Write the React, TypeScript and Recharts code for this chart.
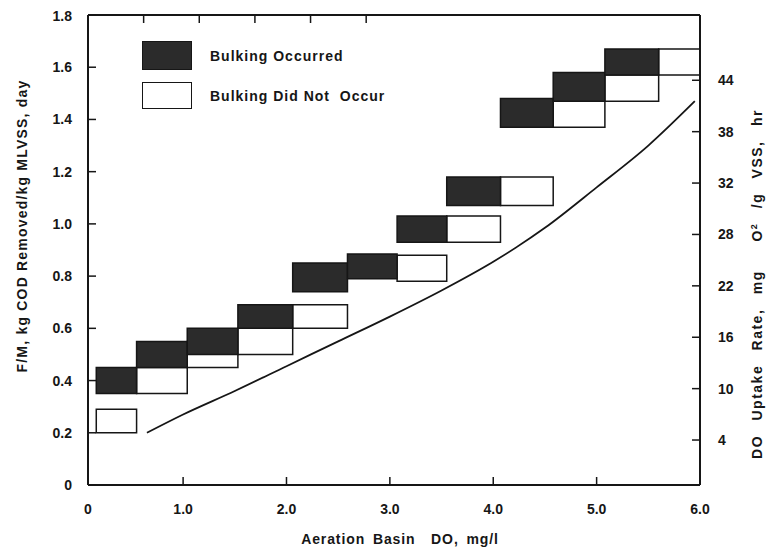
import React from "react";
import {
  ComposedChart,
  Line,
  XAxis,
  YAxis,
  ReferenceArea,
  Legend,
} from "recharts";

// aeration basin DO (mg/l) vs F/M (kg COD removed / kg MLVSS·day)
const X_MIN = 0.08;
const xTicks = [1, 2, 3, 4, 5, 6];
const fmTicks = [0, 0.2, 0.4, 0.6, 0.8, 1.0, 1.2, 1.4, 1.6, 1.8];

// right axis: DO uptake rate labels are evenly spaced but not evenly valued
const uptakeLabels = ["4", "10", "16", "22", "28", "32", "38", "44"];
const uptakeIndex = [0, 1, 2, 3, 4, 5, 6, 7];

// boxes: [DO low, DO high, F/M low, F/M high]
const notOccurred: [number, number, number, number][] = [
  [0.16, 0.55, 0.2, 0.29],
  [0.55, 1.04, 0.35, 0.45],
  [1.04, 1.53, 0.45, 0.55],
  [1.53, 2.06, 0.5, 0.6],
  [2.06, 2.59, 0.6, 0.69],
  [3.07, 3.55, 0.78, 0.88],
  [3.55, 4.07, 0.93, 1.03],
  [4.07, 4.58, 1.07, 1.18],
  [4.58, 5.08, 1.37, 1.48],
  [5.08, 5.6, 1.47, 1.57],
  [5.6, 6.0, 1.57, 1.67],
];

const occurred: [number, number, number, number][] = [
  [0.16, 0.55, 0.35, 0.45],
  [0.55, 1.04, 0.45, 0.55],
  [1.04, 1.53, 0.5, 0.6],
  [1.53, 2.06, 0.6, 0.69],
  [2.06, 2.59, 0.74, 0.85],
  [2.59, 3.07, 0.79, 0.885],
  [3.07, 3.55, 0.93, 1.03],
  [3.55, 4.07, 1.07, 1.18],
  [4.07, 4.58, 1.37, 1.48],
  [4.58, 5.08, 1.47, 1.58],
  [5.08, 5.6, 1.57, 1.67],
];

// uptake-rate curve, read in F/M units
const curveDO = [0.65, 1.0, 1.5, 2.0, 2.5, 3.0, 3.5, 4.0, 4.5, 5.0, 5.5, 5.95];
const curveFM = [0.2, 0.27, 0.36, 0.455, 0.55, 0.645, 0.745, 0.855, 0.985, 1.14, 1.3, 1.47];

const curveData = curveDO.map((d, i) => ({ do: d, fm: curveFM[i] }));

const FONT = '"Liberation Sans", Arial, Helvetica, sans-serif';
const INK = "#161616";
const tickStyle = { fill: INK, fontSize: 14, fontWeight: "bold", fontFamily: FONT };
const titleStyle: React.CSSProperties = {
  position: "absolute",
  fontFamily: FONT,
  fontSize: 14,
  fontWeight: "bold",
  color: INK,
  letterSpacing: 0.9,
  whiteSpace: "nowrap",
  lineHeight: 1,
};

const LegendBox = () => (
  <div style={{ fontFamily: FONT, fontSize: 14, fontWeight: "bold", color: INK, letterSpacing: 1 }}>
    <div style={{ display: "flex", alignItems: "center", height: 29 }}>
      <div style={{ width: 48, height: 27, background: "#2b2b2b", border: `1.5px solid ${INK}` }} />
      <span style={{ marginLeft: 18 }}>Bulking Occurred</span>
    </div>
    <div style={{ display: "flex", alignItems: "center", height: 27, marginTop: 12 }}>
      <div style={{ width: 48, height: 25, background: "#fff", border: `1.5px solid ${INK}` }} />
      <span style={{ marginLeft: 18 }}>Bulking Did Not&nbsp; Occur</span>
    </div>
  </div>
);

export default function App() {
  return (
    <div style={{ position: "fixed", left: 8, top: 8, width: 760, height: 540, background: "#fff" }}>
      <ComposedChart
        width={760}
        height={540}
        data={curveData}
        margin={{ top: 6, right: 18, bottom: 23, left: 30 }}
      >
        <XAxis
          xAxisId="bottom"
          dataKey="do"
          type="number"
          domain={[X_MIN, 6]}
          ticks={[X_MIN, ...xTicks]}
          tickFormatter={(v: number) => (v === X_MIN ? "0" : v.toFixed(1))}
          allowDataOverflow
          height={40}
          tickSize={-8}
          tickMargin={27}
          tick={tickStyle}
          axisLine={{ stroke: INK, strokeWidth: 2 }}
          tickLine={{ stroke: INK, strokeWidth: 1.5 }}
        />
        <XAxis
          xAxisId="top"
          orientation="top"
          type="number"
          domain={[X_MIN, 6]}
          ticks={xTicks.slice(0, 5)}
          tickFormatter={() => ""}
          allowDataOverflow
          height={1}
          tickSize={-8}
          axisLine={{ stroke: INK, strokeWidth: 2 }}
          tickLine={{ stroke: INK, strokeWidth: 1.5 }}
        />
        <YAxis
          yAxisId="left"
          type="number"
          domain={[0, 1.8]}
          ticks={fmTicks}
          tickFormatter={(v: number) => (v === 0 ? "0" : v.toFixed(1))}
          allowDataOverflow
          width={50}
          tickSize={-8}
          tickMargin={24}
          tick={tickStyle}
          axisLine={{ stroke: INK, strokeWidth: 2 }}
          tickLine={{ stroke: INK, strokeWidth: 1.5 }}
        />
        <YAxis
          yAxisId="right"
          orientation="right"
          type="number"
          domain={[-0.875, 8.27]}
          ticks={uptakeIndex}
          tickFormatter={(i: number) => uptakeLabels[i] ?? ""}
          allowDataOverflow
          width={50}
          tickSize={-8}
          tickMargin={26}
          tick={tickStyle}
          axisLine={{ stroke: INK, strokeWidth: 2 }}
          tickLine={{ stroke: INK, strokeWidth: 1.5 }}
        />
        {notOccurred.map(([x1, x2, y1, y2], i) => (
          <ReferenceArea
            key={`n${i}`}
            xAxisId="bottom"
            yAxisId="left"
            x1={x1}
            x2={x2}
            y1={y1}
            y2={y2}
            fill="#ffffff"
            fillOpacity={1}
            stroke={INK}
            strokeWidth={1.5}
          />
        ))}
        {occurred.map(([x1, x2, y1, y2], i) => (
          <ReferenceArea
            key={`o${i}`}
            xAxisId="bottom"
            yAxisId="left"
            x1={x1}
            x2={x2}
            y1={y1}
            y2={y2}
            fill="#2b2b2b"
            fillOpacity={1}
            stroke={INK}
            strokeWidth={1.5}
          />
        ))}
        <Line
          xAxisId="bottom"
          yAxisId="left"
          type="monotone"
          dataKey="fm"
          stroke={INK}
          strokeWidth={1.8}
          dot={false}
          activeDot={false}
          isAnimationActive={false}
        />
        <Legend
          layout="vertical"
          align="center"
          verticalAlign="middle"
          content={() => <LegendBox />}
          wrapperStyle={{ left: 134, top: 33, width: 300 }}
        />
      </ComposedChart>
      <div
        style={{
          ...titleStyle,
          left: 14,
          top: 218,
          letterSpacing: 1.2,
          transform: "translate(-50%, -50%) rotate(-90deg)",
        }}
      >
        F/M, kg COD Removed/kg MLVSS, day
      </div>
      <div
        style={{
          ...titleStyle,
          left: 749,
          top: 276,
          letterSpacing: 1.5,
          wordSpacing: 9,
          transform: "translate(-50%, -50%) rotate(-90deg)",
        }}
      >
        DO Uptake Rate, mg&nbsp; O<span style={{ fontSize: 9, verticalAlign: "super" }}>2</span> /g VSS, hr
      </div>
      <div
        style={{
          ...titleStyle,
          left: 392,
          top: 531,
          wordSpacing: 3,
          transform: "translate(-50%, -50%)",
        }}
      >
        Aeration Basin&nbsp; DO, mg/l
      </div>
    </div>
  );
}
